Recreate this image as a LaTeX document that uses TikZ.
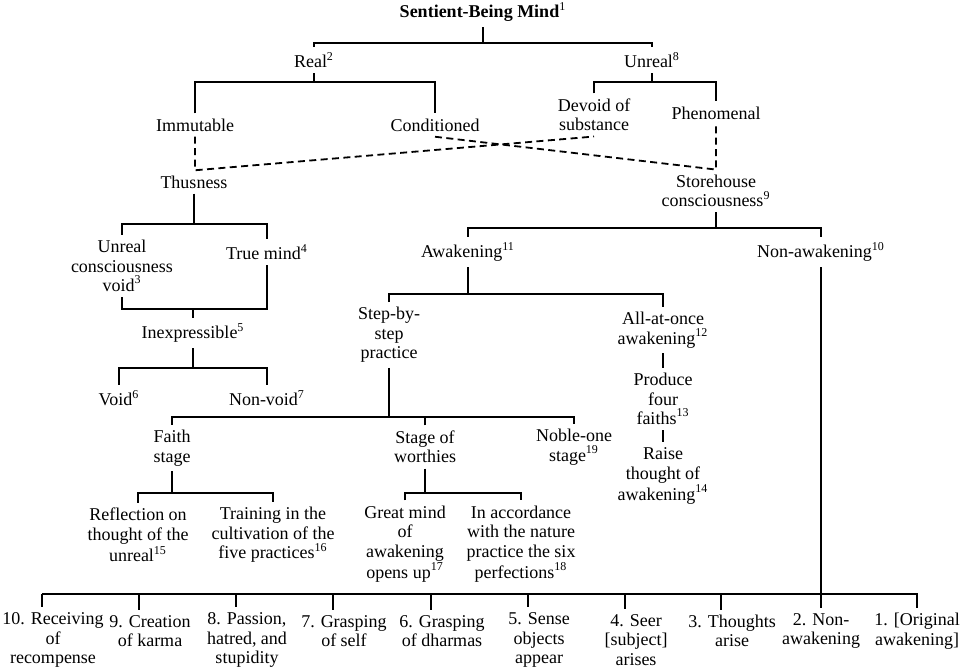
\documentclass[tikz,border=0pt]{standalone}
\usepackage{fontspec}
\setmainfont{Liberation Serif}

\tikzset{
    term/.style={align=center, inner sep=2.5pt, font=\fontsize{9}{9.7}\selectfont},
    link/.style={line width=0.7pt},
    guess/.style={line width=0.9pt, dash pattern=on 3.5pt off 2.2pt}
}

\begin{document}
\begin{tikzpicture}[x=0.5pt, y=-0.5pt, every node/.style={term}]
    \useasboundingbox (0,0) rectangle (969,671);

    % top of the tree
    \node (root) at (483,12) {\textbf{Sentient-Being Mind}\textsuperscript{1}};
    \node (real) at (314,60) {Real\textsuperscript{2}};
    \node (unreal) at (652,60) {Unreal\textsuperscript{8}};

    \node (immut) at (195,125) {Immutable};
    \node (cond) at (435,125) {Conditioned};
    \node (devoid) at (594,115) {Devoid of\\substance};
    \node (phen) at (716,113) {Phenomenal};

    \node (thus) at (194,182) {Thusness};
    \node (store) at (716,191) {Storehouse\\consciousness\textsuperscript{9}};

    % thusness side
    \node (ucv) at (122,266) {Unreal\\consciousness\\void\textsuperscript{3}};
    \node (truem) at (267,252) {True mind\textsuperscript{4}};
    \node (inexp) at (193,333) {Inexpressible\textsuperscript{5}};
    \node (void) at (119,398) {Void\textsuperscript{6}};
    \node (nonvoid) at (267,398) {Non-void\textsuperscript{7}};

    % storehouse side
    \node (awak) at (468,252) {Awakening\textsuperscript{11}};
    \node (nonawak) at (821,252) {Non-awakening\textsuperscript{10}};
    \node (step) at (389,335) {Step-by-\\step\\practice};
    \node (allonce) at (663,330) {All-at-once\\awakening\textsuperscript{12}};
    \node (four) at (663,399) {Produce\\four\\faiths\textsuperscript{13}};
    \node (raise) at (663,476) {Raise\\thought of\\awakening\textsuperscript{14}};

    \node (faith) at (172,448) {Faith\\stage};
    \node (worth) at (425,447) {Stage of\\worthies};
    \node (noble) at (574,447) {Noble-one\\stage\textsuperscript{19}};

    \node (refl) at (138,535) {Reflection on\\thought of the\\unreal\textsuperscript{15}};
    \node (train) at (273,535) {Training in the\\cultivation of the\\five practices\textsuperscript{16}};
    \node (great) at (405,544) {Great mind\\of\\awakening\\opens up\textsuperscript{17}};
    \node (accord) at (521,544) {In accordance\\with the nature\\practice the six\\perfections\textsuperscript{18}};

    % bottom row
    \node (b10) at (53,640) {10. Receiving\\of\\recompense};
    \node (b9) at (150,631) {9. Creation\\of karma};
    \node (b8) at (247,640) {8. Passion,\\hatred, and\\stupidity};
    \node (b7) at (344,631) {7. Grasping\\of self};
    \node (b6) at (442,631) {6. Grasping\\of dharmas};
    \node (b5) at (539,640) {5. Sense\\objects\\appear};
    \node (b4) at (636,640) {4. Seer\\{[subject]}\\arises};
    \node (b3) at (732,631) {3. Thoughts\\arise};
    \node (b2) at (821,631) {2. Non-\\awakening};
    \node (b1) at (917,631) {1. [Original\\awakening]};

    \coordinate (t10) at (42,594);
    \coordinate (t9) at (139,594);
    \coordinate (t8) at (236,594);
    \coordinate (t7) at (333,594);
    \coordinate (t6) at (431,594);
    \coordinate (t5) at (528,594);
    \coordinate (t4) at (625,594);
    \coordinate (t3) at (721,594);
    \coordinate (t1) at (917,594);

    % brackets
    \draw [link] (root.south) -- (root.south |- 0,43);
    \draw [link] (real.north) |- (unreal.north |- 0,43) -- (unreal.north);

    \draw [link] (real.south) -- (real.south |- 0,82);
    \draw [link] (immut.north) |- (cond.north |- 0,82) -- (cond.north);
    \draw [link] (unreal.south) -- (unreal.south |- 0,82);
    \draw [link] (devoid.north) |- (phen.north |- 0,82) -- (phen.north);

    % dashed cross links
    \draw [guess] (immut.south) -- (immut.south |- thus.north) -- (devoid.south);
    \draw [guess] (cond.south) -- (phen.south |- store.north) -- (phen.south);

    \draw [link] (thus.south) -- (thus.south |- 0,224);
    \draw [link] (ucv.north) |- (truem.north |- 0,224) -- (truem.north);
    \draw [link] (ucv.south) |- (inexp.north |- 0,309);
    \draw [link] (truem.south) |- (inexp.north |- 0,309) -- (inexp.north);
    \draw [link] (inexp.south) -- (inexp.south |- 0,368);
    \draw [link] (void.north) |- (nonvoid.north |- 0,368) -- (nonvoid.north);

    \draw [link] (store.south) -- (store.south |- 0,228);
    \draw [link] (awak.north) |- (nonawak.north |- 0,228) -- (nonawak.north);
    \draw [link] (awak.south) -- (awak.south |- 0,294);
    \draw [link] (step.north) |- (allonce.north |- 0,294) -- (allonce.north);
    \draw [link] (allonce.south) -- (four.north);
    \draw [link] (four.south) -- (raise.north);

    \draw [link] (step.south) -- (step.south |- 0,417);
    \draw [link] (faith.north) |- (noble.north |- 0,417) -- (noble.north);
    \draw [link] (worth.north) -- (worth.north |- 0,417);

    \draw [link] (faith.south) -- (faith.south |- 0,493);
    \draw [link] (refl.north) |- (train.north |- 0,493) -- (train.north);
    \draw [link] (worth.south) -- (worth.south |- 0,493);
    \draw [link] (great.north) |- (accord.north |- 0,493) -- (accord.north);

    % bottom bar
    \draw [link] (nonawak.south) -- (b2.north);
    \draw [link] (t10) -- (t1) -- (b1.north);
    \draw [link] (t10) -- (t10 |- b10.north);
    \draw [link] (t9) -- (t9 |- b9.north);
    \draw [link] (t8) -- (t8 |- b8.north);
    \draw [link] (t7) -- (t7 |- b7.north);
    \draw [link] (t6) -- (t6 |- b6.north);
    \draw [link] (t5) -- (t5 |- b5.north);
    \draw [link] (t4) -- (t4 |- b4.north);
    \draw [link] (t3) -- (t3 |- b3.north);

\end{tikzpicture}
\end{document}
